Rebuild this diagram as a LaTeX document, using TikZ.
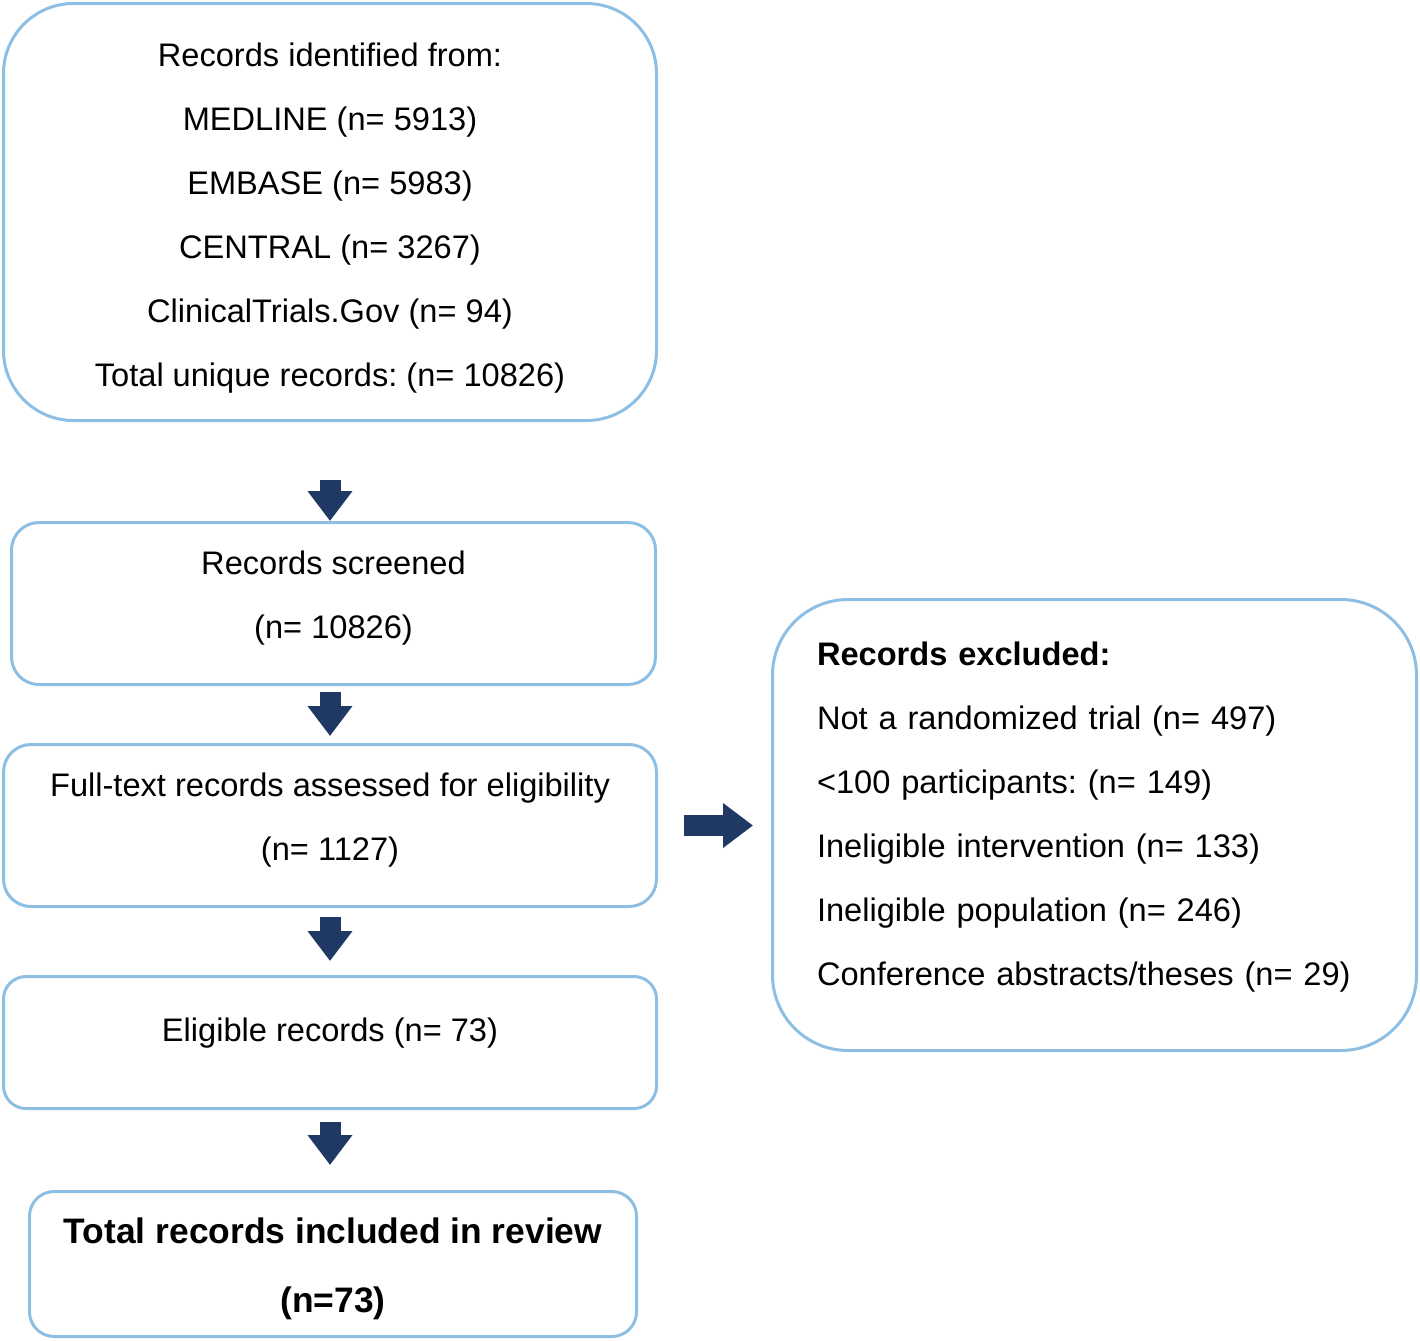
\documentclass[tikz,border=0pt]{standalone}
\usepackage{fontspec}
\setmainfont{Liberation Sans}
\usetikzlibrary{arrows.meta}
\definecolor{boxblue}{RGB}{141,190,227}
\definecolor{arrownavy}{RGB}{31,56,100}
\newcommand{\padbelow}[1]{\rule[-#1]{0pt}{0pt}}
\newcommand{\padabove}[1]{\rule{0pt}{#1}}
\frenchspacing

\begin{document}
\begin{tikzpicture}[x=0.5pt,y=-0.5pt,font=\fontsize{16.3}{32}\selectfont,
  blockarrow/.style={draw=arrownavy,line width=10.5pt,-{Triangle[length=15pt,width=21.5pt]}}]
  \tikzstyle{flowbox}=[draw=boxblue,line width=1.5pt,align=center,inner sep=0pt]
  \path[use as bounding box] (0,0) rectangle (1420,1340);
  \node[flowbox,minimum width=326.5pt,minimum height=208.5pt,rounded corners=35pt] (search) at (330,212)
    {\padabove{18pt}Records identified from:\\MEDLINE (n= 5913)\\EMBASE (n= 5983)\\CENTRAL (n= 3267)\\ClinicalTrials.Gov (n= 94)\\Total unique records: (n= 10826)};
  \node[flowbox,minimum width=322pt,minimum height=81pt,rounded corners=13.75pt] (screen) at (333.5,603.5)
    {Records screened\\(n= 10826)\padbelow{8.9pt}};
  \node[flowbox,minimum width=326.5pt,minimum height=81pt,rounded corners=13.75pt] (fulltext) at (330,825.5)
    {Full-text records assessed for eligibility\\(n= 1127)\padbelow{8.9pt}};
  \node[flowbox,minimum width=326.5pt,minimum height=66pt,rounded corners=11.25pt] (eligible) at (330,1042.5)
    {Eligible records (n= 73)\padbelow{12.9pt}};
  \node[flowbox,minimum width=303.5pt,minimum height=72.5pt,rounded corners=12.3pt,
        font=\fontsize{17.7}{34.5}\selectfont\bfseries] (included) at (333,1264)
    {\padabove{18pt}Total records included in review\\(n=73)};
  \node[flowbox,minimum width=322pt,minimum height=225.5pt,rounded corners=37.8pt,
        text width=277.5pt,align=left] (excluded) at (1094.5,825)
    {\textbf{Records excluded:}\\Not a randomized trial (n= 497)\\<100 participants: (n= 149)\\Ineligible intervention (n= 133)\\Ineligible population (n= 246)\\Conference abstracts/theses (n= 29)\padbelow{10.9pt}};
  \draw[blockarrow,shorten <=29pt] (search.south) -- (search.south |- screen.north);
  \draw[blockarrow,shorten <=3pt,shorten >=3.5pt] (fulltext.north |- screen.south) -- (fulltext.north);
  \draw[blockarrow,shorten <=4.5pt,shorten >=7pt] (fulltext.south) -- (eligible.north);
  \draw[blockarrow,shorten <=6pt,shorten >=12.5pt] (eligible.south) -- (eligible.south |- included.north);
  \draw[blockarrow,shorten <=13pt,shorten >=9pt] (fulltext.east) -- (fulltext.east -| excluded.west);
\end{tikzpicture}
\end{document}
